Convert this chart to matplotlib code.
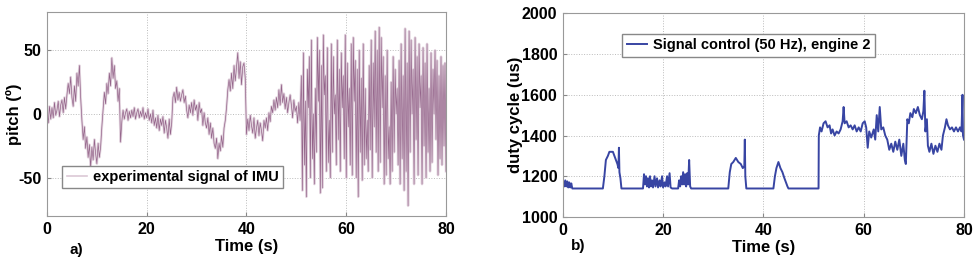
import numpy as np
import matplotlib
matplotlib.use("Agg")
import matplotlib.pyplot as plt

plt.rcParams["font.family"] = ["Liberation Sans", "DejaVu Sans"]
plt.rcParams["font.weight"] = "bold"
plt.rcParams["axes.unicode_minus"] = False

# --- a) pitch of IMU: 0-51 s sampled every 0.25 s ---
pitch_slow = [
    2, -7, 6, -4,   5, -3, 9, -1,   3, 10, -2, 7,   11, 1, 13, 4,
    15, 24, 16, 29,   13, 6, 22, 10,   32, 22, 38, 13,   -5, -20, -10, -27,
    -18, -34, -24, -42,   -26, -36, -20, -31,   -39, -23, -34, -26,   -10, 3, 17, 8,
    24, 16, 32, 22,   44, 28, 38, 20,   26, 10, 20, -22,   -6, 3, -4, 1,
    4, -5, 2, -3,   3, -2, 5, -4,   1, 4, -3, 2,   -2, 5, -4, 1,
    -3, 4, -5, 0,   -7, 3, -9, -3,   -11, -1, -13, -4,   -9, -2, -15, -5,
    -11, -19, -4, -16,   -7, 13, 17, 9,   21, 11, 17, 10,   15, 19, 9, 14,
    3, -3, 7, 1,   9, -1, 11, 3,   7, -5, 9, 1,   4, -9, 1, -7,
    -11, -3, -16, -7,   -19, -11, -23, -27,   -19, -35, -23, -29,   -17, -26, -11, -5,
    5, 19, 27, 18,   32, 20, 38, 26,   37, 48, 28, 41,   23, 37, 40, 28,
    -16, -4, -13, -1,   -9, -15, -3, -19,   -11, -5, -17, -7,   -13, -21, -5, -11,
    -3, -13, 1, -6,   6, 1, 11, 3,   13, 5, 19, 7,   23, 9, 16, 4,
    13, 1, 9, 15,   7, -3, 11, 2,   6, -7, 9, -5,
]
# --- 51-80 s sampled every 0.2 s ---
pitch_fast = [
    30, -60, 48, -40, 10, -65, 35, 5, 45, -50,
    58, -35, 0, -55, 20, -30, 60, 10, 50, -62,
    38, -58, 62, 15, 30, -45, 52, -38, -5, -50,
    55, -30, 45, 0, 15, -40, 58, -20, 35, -45,
    48, 5, 30, -35, 62, -50, 40, -10, 20, -40,
    55, -48, 60, 10, 42, -50, 35, -65, 50, -30,
    28, -52, 55, -40, 20, -35, -5, -45, 38, -28,
    58, -50, 40, -10, 65, -30, 50, -45, 68, -38,
    60, 5, 45, -55, 30, -48, 50, -35, -10, -55,
    25, -45, 45, -30, 35, 0, 20, -40, 42, -55,
    55, -35, 30, -60, 67, -45, 40, -72, 65, -30,
    58, 0, 35, -55, 60, -20, 45, -48, 55, 5,
    30, -55, 52, -25, 40, -50, 55, -30, 20, -45,
    48, -38, 35, 0, 50, -20, 42, -48, 30, -35,
    45, -40, 38, -25, 40, -45,
]
t_slow = np.arange(len(pitch_slow)) * 0.25
t_fast = 51 + np.arange(len(pitch_fast)) * 0.2

# --- b) duty cycle, engine 2 ---
duty_t = [
    0, 0.05, 0.3, 0.5, 0.7, 0.9, 1.1, 1.3, 1.5, 1.7, 1.9, 2.2,
    8.0, 8.3, 8.6, 9.0, 9.3, 10.0, 10.3, 10.6, 10.9, 11.1, 11.2, 11.3, 11.5, 11.7,
    16.0, 16.2, 16.4, 16.6, 16.8, 17.0, 17.2, 17.4, 17.6, 17.8, 18.0, 18.3, 18.5, 18.8,
    19.0, 19.3, 19.5, 19.8, 20.0, 20.3, 20.5, 20.8, 21.0, 21.3, 21.5, 21.8,
    23.0, 23.2, 23.4, 23.6, 23.8, 24.0, 24.2, 24.4, 24.6, 24.8, 25.0, 25.2, 25.4, 25.6,
    33.0, 33.3, 33.6, 34.0, 34.5, 35.0, 35.5, 35.9, 36.2, 36.3, 36.4, 36.6,
    42.0, 42.3, 42.6, 43.0, 43.4, 43.8, 44.2, 44.5, 44.8, 45.0,
    51.0, 51.05, 51.3, 51.6, 52.0, 52.4, 52.8, 53.2, 53.5, 53.8, 54.2, 54.6, 55.0, 55.4,
    55.8, 56.0, 56.2, 56.6, 57.0, 57.4, 57.8, 58.2, 58.6, 59.0, 59.4, 59.8, 60.2, 60.5,
    60.8, 61.1, 61.5, 62.0, 62.3, 62.6, 62.9, 63.2, 63.5, 63.9, 64.3, 64.7, 65.1, 65.5,
    65.9, 66.3, 66.7, 67.1, 67.5, 67.9, 68.2, 68.4, 68.7, 69.0, 69.3, 69.7, 70.0, 70.4,
    70.8, 71.2, 71.6, 71.9, 72.1, 72.3, 72.6, 72.8, 73.1, 73.5, 73.9, 74.3, 74.7, 75.1,
    75.5, 75.8, 76.2, 76.5, 76.8, 77.2, 77.6, 78.0, 78.4, 78.8, 79.2, 79.5, 79.7, 79.8, 80.0,
]
duty_us = [
    1000, 1180, 1150, 1180, 1150, 1175, 1145, 1170, 1145, 1165, 1140, 1140,
    1140, 1200, 1280, 1300, 1320, 1320, 1300, 1280, 1260, 1240, 1340, 1220, 1190, 1140,
    1140, 1210, 1160, 1200, 1150, 1190, 1145, 1200, 1150, 1180, 1145, 1200, 1150, 1190,
    1145, 1180, 1150, 1200, 1145, 1170, 1150, 1200, 1150, 1215, 1145, 1140,
    1140, 1180, 1150, 1200, 1160, 1220, 1160, 1210, 1150, 1215, 1160, 1280, 1150, 1140,
    1140, 1220, 1260, 1270, 1290, 1270, 1260, 1240, 1250, 1380, 1200, 1140,
    1140, 1200, 1240, 1270, 1240, 1220, 1190, 1170, 1150, 1140,
    1140, 1400, 1440, 1420, 1460, 1470, 1440, 1450, 1410, 1430, 1400, 1420, 1410, 1430,
    1470, 1540, 1460, 1470, 1440, 1450, 1430, 1450, 1420, 1440, 1420, 1460, 1470, 1440,
    1340, 1420, 1390, 1430, 1380, 1500, 1420, 1540, 1430, 1440, 1400, 1380, 1330, 1360,
    1320, 1370, 1330, 1380, 1300, 1360, 1280, 1260, 1480, 1460, 1510, 1490, 1530, 1510,
    1540, 1500, 1480, 1520, 1620, 1420, 1480, 1350, 1320, 1360, 1310, 1350, 1320, 1360,
    1330, 1400, 1440, 1480, 1450, 1430, 1440, 1420, 1440, 1420, 1440, 1420, 1600, 1400, 1380,
]

fig = plt.figure(figsize=(9.77, 2.63), dpi=100)
ax1 = fig.add_axes([0.0481, 0.1787, 0.4084, 0.7757])
ax2 = fig.add_axes([0.576, 0.1749, 0.4107, 0.7745])

t_pitch = np.concatenate([t_slow, t_fast])
pitch = np.concatenate([pitch_slow, pitch_fast])
ax1.plot(t_pitch, pitch, color="#e4d6e0", lw=1.8)
ax1.plot(t_pitch, pitch, color="#94648a", lw=0.5,
         label="experimental signal of IMU")
ax1.set_xlim(0, 80)
ax1.set_ylim(-80, 80)
ax1.set_xticks([0, 20, 40, 60, 80])
ax1.set_yticks([-50, 0, 50])
ax1.set_ylabel("pitch (º)", fontsize=12, fontweight="bold")
ax1.yaxis.set_label_coords(-0.063, 0.5)
ax1.set_xlabel("Time (s)", fontsize=12, fontweight="bold", labelpad=2)
leg1 = ax1.legend(loc="lower left", bbox_to_anchor=(0.02, 0.1), fontsize=10.5,
                  handlelength=1.4, handletextpad=0.4, borderpad=0.3,
                  fancybox=False, framealpha=1, edgecolor="#888888")
leg1.get_lines()[0].set_color("#dcc8d6")
leg1.get_lines()[0].set_linewidth(1.2)
fig.text(70 / 977, 1 - 254 / 263, "a)", fontsize=11, fontweight="bold")

ax2.plot(duty_t, duty_us, color="#3845a3", lw=1.4,
         label="Signal control (50 Hz), engine 2")
ax2.set_xlim(0, 80)
ax2.set_ylim(1000, 2000)
ax2.set_xticks([0, 20, 40, 60, 80])
ax2.set_yticks([1000, 1200, 1400, 1600, 1800, 2000])
ax2.set_ylabel("duty cycle (us)", fontsize=12, fontweight="bold")
ax2.yaxis.set_label_coords(-0.098, 0.5)
ax2.set_xlabel("Time (s)", fontsize=12, fontweight="bold", labelpad=2)
ax2.legend(loc="upper left", bbox_to_anchor=(0.13, 0.935), fontsize=10.5,
           handlelength=1.4, handletextpad=0.4, borderpad=0.3,
           fancybox=False, framealpha=1, edgecolor="#888888")
fig.text(571 / 977, 1 - 250 / 263, "b)", fontsize=11, fontweight="bold")

for ax in (ax1, ax2):
    ax.grid(True, color="#bbbbbb", linestyle=":", linewidth=0.7)
    ax.tick_params(direction="in", length=3, color="#888888",
                   labelsize=11.5, pad=4)
    for lab in ax.get_xticklabels() + ax.get_yticklabels():
        lab.set_fontweight("bold")
    for s in ax.spines.values():
        s.set_color("#999999")
        s.set_linewidth(0.8)

fig.savefig("out.png", dpi=100)
